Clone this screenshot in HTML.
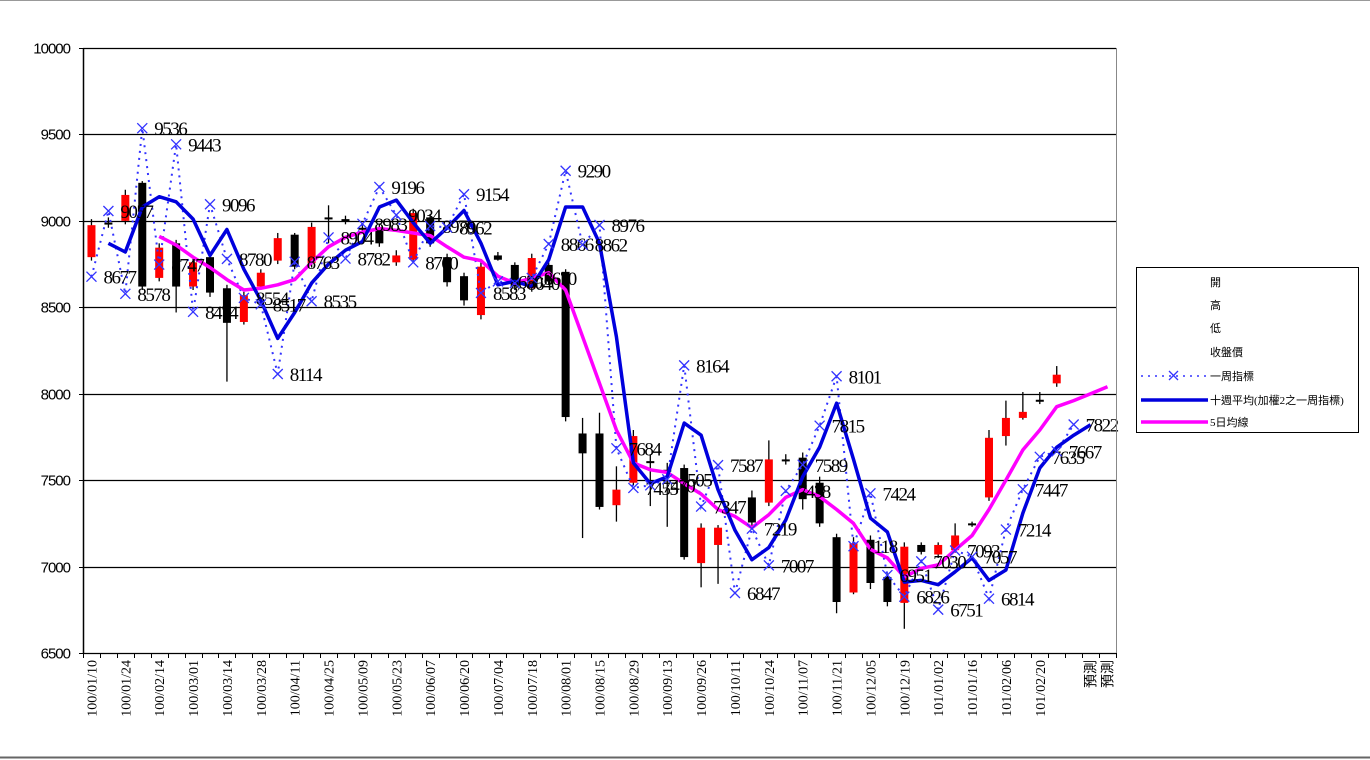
<!DOCTYPE html>
<html><head><meta charset="utf-8">
<style>
html,body{margin:0;padding:0;background:#fff;}
svg{display:block;font-family:"Liberation Serif","Noto Sans CJK TC",serif;}
</style></head>
<body>
<svg id="chart" width="1370" height="760" viewBox="0 0 1370 760" xmlns="http://www.w3.org/2000/svg">
<rect x="0" y="0" width="1370" height="760" fill="#fff"/>
<line x1="0" y1="0.5" x2="1370" y2="0.5" stroke="#999"/>
<line x1="0" y1="757.5" x2="1370" y2="757.5" stroke="#666" stroke-width="2"/>
<g id="grid"></g>
<g id="candles"></g>
<g id="lines"></g>
<g id="labels"></g>
<g id="axes"></g>
<g>
<rect x="1136.5" y="267.5" width="222" height="165" fill="#fff" stroke="#000"/>
<text x="1210" y="286" font-size="11">開</text>
<text x="1210" y="309" font-size="11">高</text>
<text x="1210" y="332" font-size="11">低</text>
<text x="1210" y="356" font-size="11">收盤價</text>
<g>
<line x1="1141" y1="376" x2="1208" y2="376" stroke="#3333ff" stroke-width="1.5" stroke-dasharray="2,5"/>
<path d="M1169 371 l9 9 M1178 371 l-9 9" stroke="#3333ff" stroke-width="1.3"/>
<text x="1210" y="380" font-size="11">一周指標</text></g>
<g>
<line x1="1141" y1="400" x2="1208" y2="400" stroke="#0000dd" stroke-width="3.5"/>
<text x="1210" y="404" font-size="11">十週平均(加權2之一周指標)</text></g>
<g>
<line x1="1141" y1="422" x2="1208" y2="422" stroke="#ff00ff" stroke-width="3.5"/>
<text x="1210" y="426" font-size="11">5日均線</text></g>
</g>
</svg>
<script>
const categories=["100/01/10","","100/01/24","","100/02/14","","100/03/01","","100/03/14","","100/03/28","","100/04/11","","100/04/25","","100/05/09","","100/05/23","","100/06/07","","100/06/20","","100/07/04","","100/07/18","","100/08/01","","100/08/15","","100/08/29","","100/09/13","","100/09/26","","100/10/11","","100/10/24","","100/11/07","","100/11/21","","100/12/05","","100/12/19","","101/01/02","","101/01/16","","101/02/06","","101/02/20","","","預測","預測"];
const openV=[8790,8990,9000,9220,8670,8870,8620,8790,8610,8415,8620,8770,8920,8755,9020,9010,8960,8960,8760,8775,9020,8790,8680,8455,8800,8745,8610,8745,8705,7770,7770,7355,7485,7610,7560,7570,7020,7125,null,7400,7370,7620,7630,7485,7170,6850,7155,6940,6790,7125,7070,7095,7250,7400,7755,7860,7965,8060,null,null,null];
const closeV=[8975,8985,9150,8620,8845,8620,8760,8585,8410,8570,8700,8900,8735,8965,9015,9000,8950,8870,8800,9045,8870,8645,8540,8735,8775,8620,8785,8650,7865,7655,7345,7445,7755,7600,7550,7055,7225,7225,null,7255,7620,7615,7390,7250,6795,7135,6905,6795,7115,7085,7125,7180,7245,7745,7860,7895,7960,8110,null,null,null];
const highV=[9010,9020,9180,9230,8870,8890,8780,8810,8630,8590,8720,8930,8930,8990,9090,9030,8980,8980,8830,9070,9040,8810,8700,8760,8820,8760,8810,8760,8720,7860,7890,7580,7790,7650,7600,7590,7250,7240,null,7440,7730,7650,7660,7520,7190,7170,7180,6960,7140,7140,7140,7250,7260,7790,7960,8010,8010,8160,null,null,null];
const lowV=[8770,8960,8980,8600,8650,8470,8600,8560,8070,8400,8600,8750,8720,8730,8870,8980,8930,8850,8740,8760,8850,8620,8510,8430,8770,8600,8590,8630,7840,7165,7330,7260,7470,7350,7230,7040,6880,6900,null,7230,7350,7590,7330,7230,6730,6840,6870,6770,6640,7070,7050,7080,7230,7380,7700,7850,7940,8040,null,null,null];
const weekly=[8677,9057,8578,9536,8747,9443,8474,9096,8780,8554,8517,8114,8763,8535,8904,8782,8983,9196,9034,8760,8970,8962,9154,8583,8650,8640,8670,8866,9290,8862,8976,7684,7455,7470,7505,8164,7347,7587,6847,7219,7007,7438,7589,7815,8101,7118,7424,6951,6826,7030,6751,7093,7057,6814,7214,7447,7635,7667,7822,null,null];
const tenWeek=[null,8870,8820,9080,9140,9110,9010,8800,8950,8720,8540,8320,8470,8640,8750,8830,8880,9080,9120,8990,8870,8960,9060,8870,8630,8650,8620,8775,9080,9080,8870,8330,7600,7480,7520,7830,7760,7445,7210,7040,7110,7270,7520,7690,7945,7620,7280,7200,6910,6920,6895,6970,7050,6920,6980,7310,7570,7690,7760,7820,null];
const maLine=[null,null,null,null,8910,8860,8790,8730,8660,8600,8610,8630,8660,8760,8850,8905,8935,8955,8945,8930,8915,8850,8790,8770,8680,8640,8670,8700,8600,8330,8060,7790,7600,7560,7545,7480,7420,7330,7290,7225,7300,7400,7445,7405,7330,7250,7100,7050,6940,6990,7010,7095,7180,7330,7500,7675,7790,7925,7960,8000,8040];
const yTicks=[6500,7000,7500,8000,8500,9000,9500,10000];

const NS="http://www.w3.org/2000/svg";
const L=83,R=1116,T=48,B=653,YMIN=6500,YMAX=10000;
const N=categories.length;
const bw=(R-L)/N;
function xs(i){return L+(i+0.5)*bw;}
function ys(v){return T+(YMAX-v)/(YMAX-YMIN)*(B-T);}
function mk(tag,attrs,parent){const e=document.createElementNS(NS,tag);for(const k in attrs)e.setAttribute(k,attrs[k]);parent.appendChild(e);return e;}
const grid=document.getElementById('grid'),axes=document.getElementById('axes');
yTicks.forEach(v=>{
  const y=Math.round(ys(v))+0.5;
  const g=mk('line',{x1:L,x2:R,y1:y,y2:y,stroke:'#000','stroke-width':1.2},grid);
  
  
  const t=mk('text',{x:70,y:y+5,'text-anchor':'end','font-size':15,'font-family':'Liberation Sans Narrow, Liberation Sans, sans-serif','letter-spacing':'-1'},axes);
  t.textContent=v;
  
  
  const tk=mk('line',{x1:L-4,x2:L,y1:y,y2:y,stroke:'#000'},axes);
  
  
});
const ax=mk('line',{x1:L+0.5,x2:L+0.5,y1:T,y2:B,stroke:'#000','stroke-width':1.5},axes);


const rx=mk('line',{x1:R+0.5,x2:R+0.5,y1:T,y2:B,stroke:'#888','stroke-width':1},axes);


for(let i=0;i<=N;i++){
  const x=Math.round(L+i*bw)+0.5;
  const tk=mk('line',{x1:x,x2:x,y1:B,y2:B+5,stroke:'#000'},axes);
  
  
}
categories.forEach((c,i)=>{
  if(!c)return;
  const x=xs(i)+5,y=660;
  const t=mk('text',{x:x,y:y,'text-anchor':'end','font-size':14,transform:`rotate(-90 ${x} ${y})`},axes);
  t.textContent=c;
  
  
});
// candles
const cg=document.getElementById('candles');
openV.forEach((o,i)=>{
  const c=closeV[i];if(o==null||c==null)return;
  const up=c>o,col=up?'#ff0000':'#000';
  const x=xs(i);
  const w=mk('line',{x1:x,x2:x,y1:ys(highV[i]),y2:ys(lowV[i]),stroke:'#000','stroke-width':1.3},cg);
  
  
  const top=ys(Math.max(o,c)),bot=ys(Math.min(o,c));
  const r=mk('rect',{x:x-4,y:top,width:8,height:Math.max(bot-top,2),fill:col},cg);
  
  
});
function path(arr){let d='',s=false;arr.forEach((v,i)=>{if(v==null){s=false;return;}d+=(s?'L':'M')+xs(i).toFixed(1)+' '+ys(v).toFixed(1);s=true;});return d;}
const lg=document.getElementById('lines');
const p1=mk('path',{d:path(weekly),fill:'none',stroke:'#3333ff','stroke-width':2,'stroke-dasharray':'2,5'},lg);


const p3=mk('path',{d:path(maLine),fill:'none',stroke:'#ff00ff','stroke-width':3.5,'stroke-linejoin':'round'},lg);


const p2=mk('path',{d:path(tenWeek),fill:'none',stroke:'#0000dd','stroke-width':3.5,'stroke-linejoin':'round'},lg);


const lb=document.getElementById('labels');
weekly.forEach((v,i)=>{
  if(v==null)return;
  const x=xs(i),y=ys(v);
  const m=mk('path',{d:`M${x-5} ${y-5}l10 10M${x+5} ${y-5}l-10 10`,stroke:'#3333ff','stroke-width':1.3},lb);
  
  
  const t=mk('text',{x:x+12,y:y+7,'font-size':19,'letter-spacing':'-1.5'},lb);
  t.textContent=v;
  
  
});
</script>
</body></html>
